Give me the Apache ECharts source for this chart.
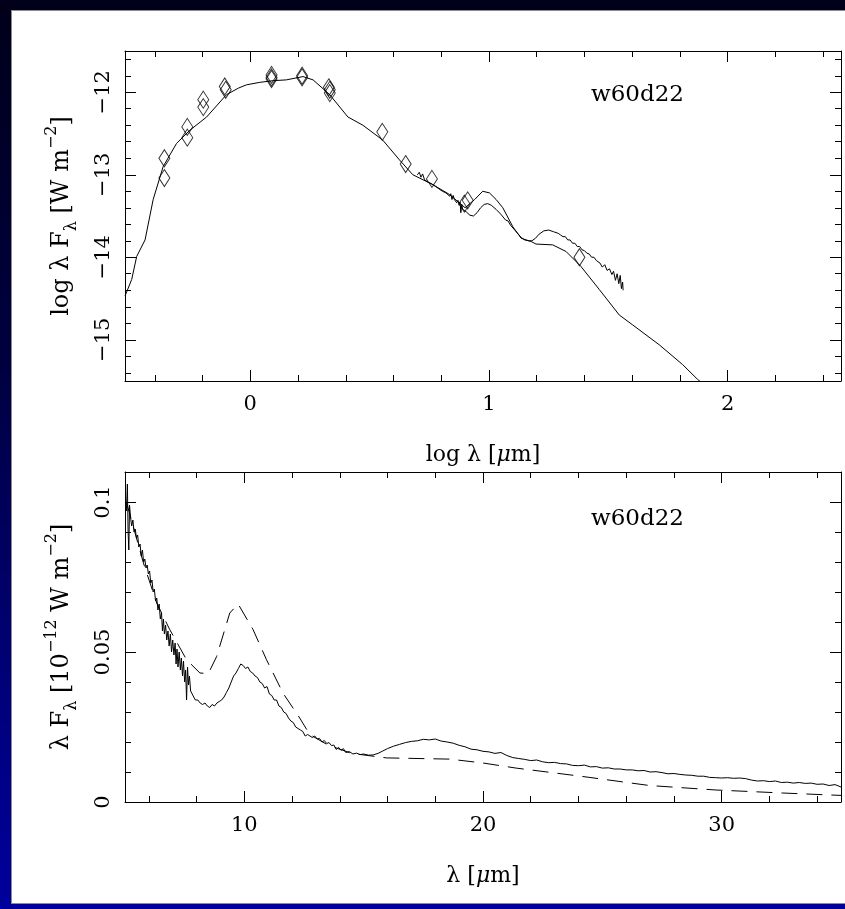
<!DOCTYPE html>
<html>
<head>
<meta charset="utf-8">
<script src="https://cdn.jsdelivr.net/npm/echarts@6/dist/echarts.min.js"></script>
<style>
html,body{margin:0;padding:0;width:845px;height:909px;overflow:hidden;
  background:linear-gradient(to bottom,#00001a 0%,#000040 40%,#000080 80%,#00009c 100%);}
#panel{position:absolute;left:11px;top:10px;width:834px;height:894px;background:#fff;
  border-left:1px solid #8c8c8c;border-top:1px solid #8c8c8c;border-bottom:1px solid #8c8c8c;box-sizing:border-box;}
#chart{position:absolute;left:0;top:0;width:845px;height:909px;}
</style>
</head>
<body>
<div id="panel"></div>
<div id="chart"></div>
<script>
// ---------------- DATA ----------------
// Top panel: log lambda [um] vs log lambda F_lambda [W m^-2]
const topXRange = [-0.525, 2.475];
const topYRange = [-15.5, -11.5];
const topXMajor = [0, 1, 2];
const topXMinor = [-0.4, -0.2, 0.2, 0.4, 0.6, 0.8, 1.2, 1.4, 1.6, 1.8, 2.2, 2.4];
const topYMajor = [-15, -14, -13, -12];
const topYMinor = [-15.4, -15.2, -14.8, -14.6, -14.4, -14.2, -13.8, -13.6, -13.4, -13.2,
                   -12.8, -12.6, -12.4, -12.2, -11.8, -11.6];

// photometry (diamonds)
const photometry = [
  [-0.36, -12.80], [-0.36, -13.04], [-0.264, -12.42], [-0.264, -12.55],
  [-0.197, -12.09], [-0.197, -12.18], [-0.107, -11.93], [-0.103, -11.97],
  [0.089, -11.79], [0.089, -11.82], [0.089, -11.84], [0.217, -11.80], [0.217, -11.82],
  [0.329, -11.94], [0.333, -11.97], [0.333, -12.01], [0.553, -12.48], [0.651, -12.87],
  [0.761, -13.05], [0.897, -13.35], [0.911, -13.31], [1.379, -14.00]
];

// model SED (solid, full range)
const topModel = [
  [-0.525, -14.47], [-0.497, -14.27], [-0.476, -13.99], [-0.441, -13.79], [-0.407, -13.30],
  [-0.365, -12.90], [-0.309, -12.62], [-0.253, -12.46], [-0.183, -12.30], [-0.10, -12.03],
  [-0.05, -11.95], [-0.016, -11.91], [0.04, -11.88], [0.095, -11.86], [0.151, -11.85],
  [0.221, -11.81], [0.263, -11.85], [0.333, -12.03], [0.409, -12.30], [0.472, -12.40],
  [0.555, -12.58], [0.625, -12.82], [0.681, -13.00], [0.765, -13.12], [0.835, -13.24],
  [0.90, -13.40], [0.94, -13.30], [0.974, -13.20], [1.002, -13.22], [1.03, -13.30],
  [1.058, -13.40], [1.10, -13.63], [1.135, -13.77], [1.177, -13.81], [1.197, -13.84],
  [1.267, -13.85], [1.323, -13.93], [1.385, -14.11], [1.462, -14.39], [1.546, -14.70],
  [1.602, -14.82], [1.713, -15.06], [1.811, -15.30], [1.874, -15.48], [1.95, -15.66]
];

// observed spectrum (noisy)
const topSpectrum = [
  [0.700, -13.00], [0.708, -12.97], [0.715, -13.03], [0.722, -12.99], [0.730, -13.06],
  [0.738, -13.05], [0.745, -13.09], [0.752, -13.07], [0.760, -13.11], [0.768, -13.10],
  [0.775, -13.14], [0.783, -13.13], [0.790, -13.17], [0.798, -13.16], [0.805, -13.20],
  [0.812, -13.18], [0.820, -13.22], [0.828, -13.21], [0.835, -13.26], [0.840, -13.23],
  [0.845, -13.30], [0.850, -13.25], [0.855, -13.30], [0.860, -13.28], [0.865, -13.34],
  [0.870, -13.31], [0.875, -13.37], [0.879, -13.33], [0.882, -13.46], [0.886, -13.36],
  [0.890, -13.42], [0.897, -13.40], [0.905, -13.45], [0.912, -13.44], [0.920, -13.49],
  [0.935, -13.50], [0.950, -13.46], [0.965, -13.40], [0.980, -13.36], [0.995, -13.35],
  [1.010, -13.37], [1.030, -13.42], [1.050, -13.48], [1.070, -13.55], [1.080, -13.56],
  [1.090, -13.61], [1.097, -13.60], [1.105, -13.66], [1.112, -13.65], [1.120, -13.71],
  [1.128, -13.70], [1.135, -13.76], [1.142, -13.74], [1.150, -13.79], [1.165, -13.80],
  [1.180, -13.80], [1.195, -13.77], [1.210, -13.72], [1.230, -13.68], [1.250, -13.67],
  [1.270, -13.69], [1.290, -13.71], [1.300, -13.73], [1.310, -13.75], [1.320, -13.75],
  [1.330, -13.79], [1.340, -13.79], [1.350, -13.83], [1.360, -13.83], [1.370, -13.87],
  [1.380, -13.87], [1.390, -13.91], [1.400, -13.92], [1.410, -13.95], [1.420, -13.96],
  [1.430, -14.00], [1.440, -14.00], [1.450, -14.04], [1.458, -14.02], [1.465, -14.07],
  [1.475, -14.12], [1.485, -14.09], [1.495, -14.16], [1.505, -14.14], [1.515, -14.21],
  [1.522, -14.17], [1.530, -14.28], [1.537, -14.20], [1.544, -14.32], [1.550, -14.22],
  [1.555, -14.38], [1.560, -14.30], [1.562, -14.40]
];

// Bottom panel: lambda [um] vs lambda F_lambda [1e-12 W m^-2]
const botXRange = [5, 35];
const botYRange = [0, 0.11];
const botXMajor = [10, 20, 30];
const botXMinor = [6, 8, 12, 14, 16, 18, 22, 24, 26, 28, 32, 34];
const botYMajor = [0, 0.05, 0.1];
const botYMinor = [0.01, 0.02, 0.03, 0.04, 0.06, 0.07, 0.08, 0.09, 0.11];

const botSpectrum = [
  [5.02, 0.101], [5.06, 0.097], [5.10, 0.106], [5.13, 0.090], [5.16, 0.084], [5.19, 0.099],
  [5.23, 0.095], [5.28, 0.092], [5.33, 0.094], [5.38, 0.090], [5.43, 0.091], [5.48, 0.088],
  [5.53, 0.089], [5.58, 0.085], [5.63, 0.086], [5.68, 0.082], [5.73, 0.084], [5.78, 0.080],
  [5.83, 0.081], [5.88, 0.078], [5.93, 0.079], [5.98, 0.076], [6.03, 0.077], [6.08, 0.073],
  [6.13, 0.074], [6.18, 0.070], [6.23, 0.071], [6.28, 0.067], [6.33, 0.068], [6.38, 0.064],
  [6.43, 0.066], [6.48, 0.061], [6.53, 0.063], [6.57, 0.057], [6.61, 0.061], [6.65, 0.056],
  [6.70, 0.059], [6.75, 0.054], [6.80, 0.057], [6.85, 0.052], [6.90, 0.056], [6.95, 0.050],
  [7.00, 0.054], [7.05, 0.049], [7.10, 0.053], [7.14, 0.046], [7.18, 0.051], [7.22, 0.045],
  [7.27, 0.050], [7.32, 0.044], [7.36, 0.048], [7.41, 0.042], [7.45, 0.047], [7.50, 0.040],
  [7.54, 0.044], [7.58, 0.034], [7.62, 0.045], [7.66, 0.039], [7.70, 0.042], [7.75, 0.037],
  [7.80, 0.037], [7.88, 0.035], [7.95, 0.034], [8.05, 0.034], [8.15, 0.033], [8.25, 0.0325],
  [8.35, 0.033], [8.45, 0.032], [8.55, 0.0315], [8.65, 0.0325], [8.75, 0.032], [8.85, 0.033],
  [8.95, 0.0335], [9.05, 0.034], [9.15, 0.035], [9.25, 0.0365], [9.35, 0.038], [9.45, 0.040],
  [9.55, 0.042], [9.65, 0.043], [9.75, 0.0445], [9.85, 0.046], [9.95, 0.0455], [10.05, 0.0445],
  [10.15, 0.045], [10.25, 0.0435], [10.35, 0.043], [10.45, 0.042], [10.55, 0.0415], [10.65, 0.040],
  [10.75, 0.0395], [10.85, 0.038], [10.95, 0.0385], [11.05, 0.036], [11.15, 0.0355], [11.25, 0.034],
  [11.35, 0.034], [11.45, 0.032], [11.55, 0.0315], [11.65, 0.030], [11.75, 0.0295], [11.85, 0.028],
  [11.95, 0.027], [12.05, 0.0265], [12.15, 0.025], [12.25, 0.0245], [12.35, 0.024], [12.45, 0.0235],
  [12.55, 0.022], [12.65, 0.0225], [12.75, 0.022], [12.85, 0.0215], [12.95, 0.022], [13.05, 0.021],
  [13.15, 0.0212], [13.25, 0.020], [13.35, 0.0205], [13.45, 0.0195], [13.55, 0.0198], [13.65, 0.0188],
  [13.75, 0.019], [13.85, 0.0175], [13.95, 0.0182], [14.05, 0.0172], [14.15, 0.0178], [14.25, 0.0165],
  [14.40, 0.0168], [14.55, 0.0160], [14.70, 0.0163], [14.85, 0.0158], [15.00, 0.0160], [15.20, 0.0156],
  [15.40, 0.0157], [15.60, 0.0162], [15.80, 0.0170], [16.00, 0.0178], [16.25, 0.0186], [16.50, 0.0192],
  [16.75, 0.0198], [17.00, 0.0202], [17.25, 0.0204], [17.50, 0.0209], [17.75, 0.0207], [18.00, 0.0210],
  [18.25, 0.0203], [18.50, 0.0200], [18.75, 0.0196], [19.00, 0.0189], [19.25, 0.0184], [19.50, 0.0176],
  [19.75, 0.0174], [20.00, 0.0169], [20.25, 0.0167], [20.50, 0.0162], [20.75, 0.0165], [21.00, 0.0155],
  [21.25, 0.0148], [21.50, 0.0145], [21.75, 0.0142], [22.00, 0.0138], [22.25, 0.0140], [22.50, 0.0134],
  [22.75, 0.0131], [23.00, 0.0132], [23.25, 0.0128], [23.50, 0.0127], [23.75, 0.0122], [24.00, 0.0121],
  [24.25, 0.0123], [24.50, 0.0117], [24.75, 0.0118], [25.00, 0.0113], [25.25, 0.0114], [25.50, 0.0110],
  [25.75, 0.0110], [26.00, 0.0107], [26.25, 0.0107], [26.50, 0.0104], [26.75, 0.0105], [27.00, 0.0100],
  [27.25, 0.0101], [27.50, 0.0098], [27.75, 0.0094], [28.00, 0.0095], [28.25, 0.0092], [28.50, 0.0090],
  [28.75, 0.0089], [29.00, 0.0086], [29.25, 0.0086], [29.50, 0.0082], [29.75, 0.0081], [30.00, 0.0080],
  [30.25, 0.0081], [30.50, 0.0079], [30.75, 0.0080], [31.00, 0.0078], [31.25, 0.0073], [31.50, 0.0070],
  [31.75, 0.0071], [32.00, 0.0068], [32.25, 0.0070], [32.50, 0.0065], [32.75, 0.0066], [33.00, 0.0063],
  [33.25, 0.0065], [33.50, 0.0062], [33.75, 0.0063], [34.00, 0.0059], [34.25, 0.0060], [34.50, 0.0055],
  [34.75, 0.0058], [35.00, 0.0050]
];

const botModel = [
  [5.07, 0.0997], [5.77, 0.0797], [6.33, 0.0663], [6.88, 0.0574], [7.58, 0.0474], [8.14, 0.0430],
  [8.49, 0.0428], [8.84, 0.0485], [9.39, 0.0630], [9.74, 0.0660], [10.37, 0.0574], [10.93, 0.0474],
  [11.62, 0.0363], [12.32, 0.0280], [12.74, 0.0225], [13.50, 0.0190], [14.50, 0.0162], [15.95, 0.0147],
  [17.90, 0.0144], [18.60, 0.0143], [20.00, 0.0130], [21.39, 0.0113], [24.18, 0.0085], [26.97, 0.0055],
  [29.76, 0.0040], [32.55, 0.0030], [34.36, 0.0024], [35.0, 0.0022]
];

// ---------------- CHART ----------------
const FONT = 'DejaVu Serif';
const BLACK = '#000';

function minusFmt(v) {
  return v < 0 ? '\u2212' + Math.abs(v) : String(v);
}

function axisGroup(dim, gi, range, major, minor, labelCfg, nameCfg) {
  const posA = dim === 'x' ? 'bottom' : 'left';
  const posB = dim === 'x' ? 'top' : 'right';
  const base = (pos, showLine, vals, len) => ({
    type: 'value', gridIndex: gi, position: pos, min: range[0], max: range[1],
    axisLine: { show: showLine, onZero: false, lineStyle: { color: BLACK, width: 1 } },
    axisTick: { show: true, inside: true, length: len, customValues: vals, lineStyle: { color: BLACK, width: 1 } },
    axisLabel: { show: false },
    splitLine: { show: false }, minorTick: { show: false }, minorSplitLine: { show: false },
    silent: true
  });
  const main = base(posA, true, major, 11);
  main.axisLabel = Object.assign({
    show: true, customValues: major, color: BLACK, fontFamily: FONT, fontSize: 21
  }, labelCfg);
  Object.assign(main, nameCfg);
  return [main, base(posB, true, major, 11), base(posA, false, minor, 6), base(posB, false, minor, 6)];
}

const xRich = {
  it: { fontFamily: FONT, fontSize: 22, color: BLACK, fontStyle: 'italic', lineHeight: 32 }
};
const yRich = {
  sub: { fontFamily: FONT, fontSize: 16, color: BLACK, verticalAlign: 'bottom', lineHeight: 16 },
  sup: { fontFamily: FONT, fontSize: 16, color: BLACK, verticalAlign: 'top', lineHeight: 16 }
};
const xNameStyle = { fontFamily: FONT, fontSize: 22, color: BLACK, lineHeight: 32, rich: xRich };
const yNameStyle = { fontFamily: FONT, fontSize: 24, color: BLACK, lineHeight: 36, rich: yRich };

const xAxes = [].concat(
  axisGroup('x', 0, topXRange, topXMajor, topXMinor, { margin: 13 },
    { name: 'log \u03bb [{it|\u03bc}m]', nameLocation: 'middle', nameGap: 58, nameTextStyle: xNameStyle }),
  axisGroup('x', 1, botXRange, botXMajor, botXMinor, { margin: 13 },
    { name: '\u03bb [{it|\u03bc}m]', nameLocation: 'middle', nameGap: 58, nameTextStyle: xNameStyle })
);
const yAxes = [].concat(
  axisGroup('y', 0, topYRange, topYMajor, topYMinor, { rotate: 90, margin: 11, formatter: minusFmt },
    { name: 'log \u03bb F{sub|\u03bb} [W m{sup|\u22122}]', nameLocation: 'middle', nameRotate: 90, nameGap: 45, nameTextStyle: yNameStyle }),
  axisGroup('y', 1, botYRange, botYMajor, botYMinor, { rotate: 90, margin: 11 },
    { name: '\u03bb F{sub|\u03bb} [10{sup|\u221212} W m{sup|\u22122}]', nameLocation: 'middle', nameRotate: 90, nameGap: 45, nameTextStyle: yNameStyle })
);

const chart = echarts.init(document.getElementById('chart'), null, { renderer: 'canvas' });
chart.setOption({
  backgroundColor: 'transparent',
  animation: false,
  grid: [
    { left: 125, top: 51, width: 716, height: 330, outerBoundsMode: 'none', containLabel: false },
    { left: 125, top: 472, width: 716, height: 330, outerBoundsMode: 'none', containLabel: false }
  ],
  xAxis: xAxes,
  yAxis: yAxes,
  graphic: [
    { type: 'text', x: 591, y: 95, silent: true,
      style: { text: 'w60d22', font: '23px "DejaVu Serif"', fill: BLACK, verticalAlign: 'middle' } },
    { type: 'text', x: 591, y: 519, silent: true,
      style: { text: 'w60d22', font: '23px "DejaVu Serif"', fill: BLACK, verticalAlign: 'middle' } }
  ],
  series: [
    { type: 'line', name: 'model', xAxisIndex: 0, yAxisIndex: 0, data: topModel, showSymbol: false,
      clip: true, lineStyle: { color: BLACK, width: 1 } },
    { type: 'line', name: 'spectrum', xAxisIndex: 0, yAxisIndex: 0, data: topSpectrum, showSymbol: false,
      clip: true, lineStyle: { color: BLACK, width: 1 } },
    { type: 'scatter', name: 'photometry', xAxisIndex: 0, yAxisIndex: 0, data: photometry,
      symbol: 'diamond', symbolSize: [11, 17],
      itemStyle: { color: 'rgba(255,255,255,0)', borderColor: BLACK, borderWidth: 1 } },
    { type: 'line', name: 'spectrum', xAxisIndex: 4, yAxisIndex: 4, data: botSpectrum, showSymbol: false,
      clip: true, lineStyle: { color: BLACK, width: 1 } },
    { type: 'line', name: 'model', xAxisIndex: 4, yAxisIndex: 4, data: botModel, showSymbol: false,
      clip: true, lineStyle: { color: BLACK, width: 1, type: [16, 9] } }
  ]
});
</script>
</body>
</html>
